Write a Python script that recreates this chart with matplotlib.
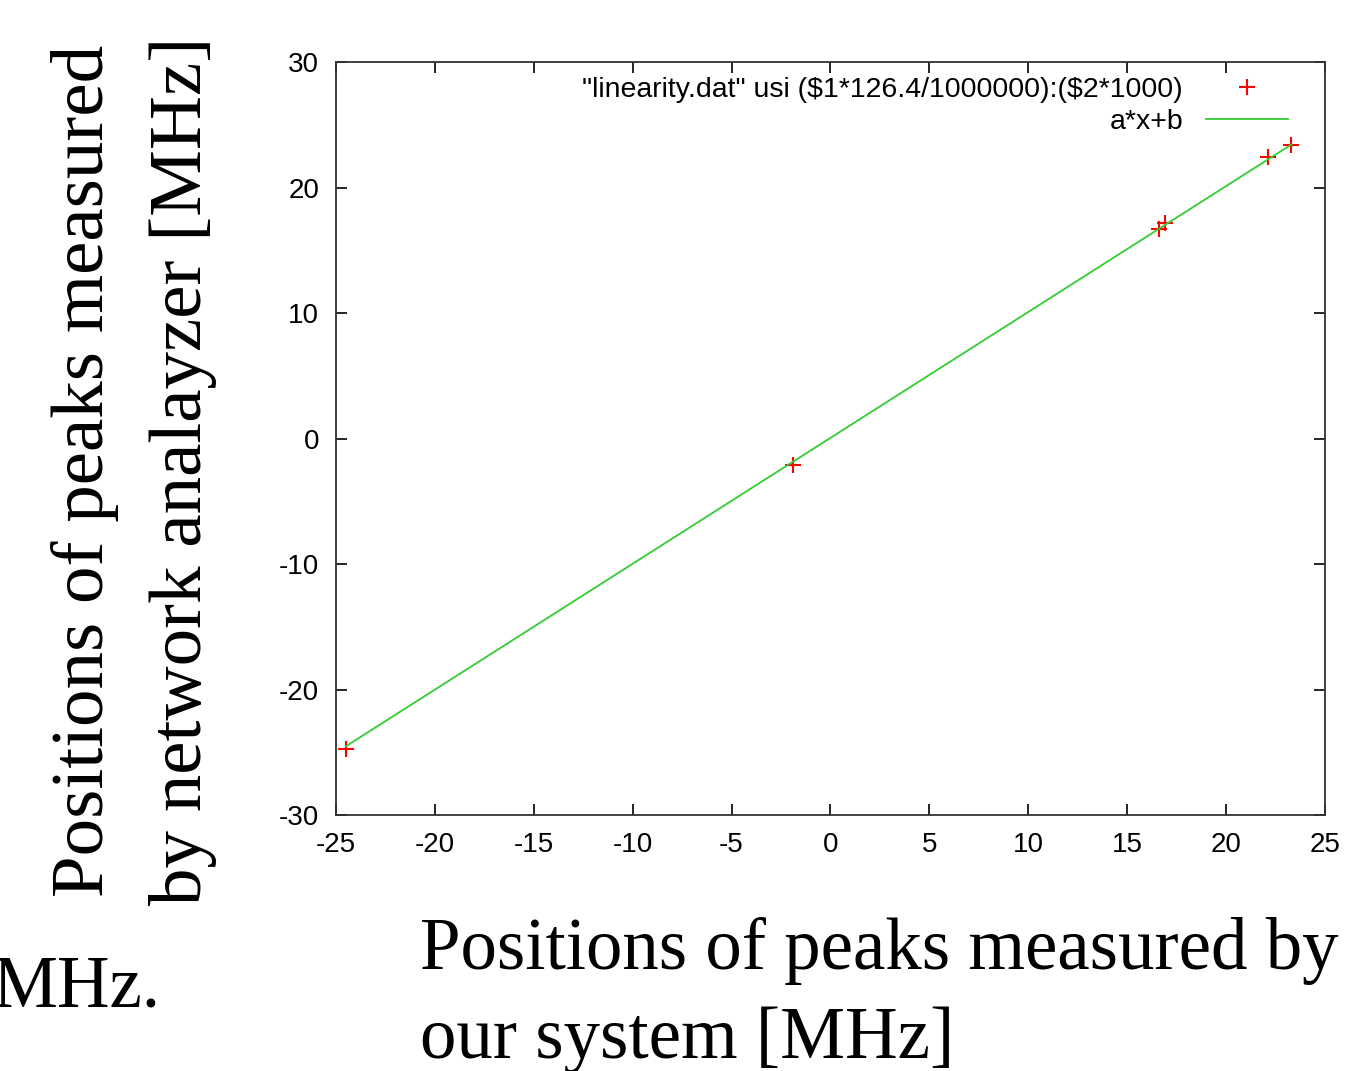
import matplotlib.pyplot as plt
import numpy as np

plt.rcParams["axes.unicode_minus"] = False
plt.rcParams["font.family"] = ["Liberation Sans", "DejaVu Sans"]

# peak positions [MHz]
x_sys = [-24.5, -1.9, 16.6, 16.9, 22.1, 23.3]
y_na = [-24.7, -2.1, 16.7, 17.2, 22.4, 23.4]

# fitted line a*x+b
a = 1.003
b = 0.05

xticks = [-25, -20, -15, -10, -5, 0, 5, 10, 15, 20, 25]
yticks = [-30, -20, -10, 0, 10, 20, 30]

fig = plt.figure(figsize=(13.69, 10.71), dpi=100)
ax = fig.add_axes([0.2454, 0.2390, 0.7224, 0.7031])

ax.plot(x_sys, y_na, "+", color="red", markersize=12, markeredgewidth=1.5,
        linestyle="none", label=r'"linearity.dat" usi (\$1*126.4/1000000):(\$2*1000)')
xf = np.array([min(x_sys), max(x_sys)])
ax.plot(xf, a * xf + b, color="#33cc33", linewidth=1.3, label="a*x+b")

ax.set_xlim(-25, 25)
ax.set_ylim(-30, 30)
ax.set_xticks(xticks)
ax.set_yticks(yticks)
ax.tick_params(direction="in", top=True, right=True, length=8, width=1.2,
               labelsize=20, pad=12)
for s in ax.spines.values():
    s.set_linewidth(1.3)
    s.set_color("#333333")

leg = ax.legend(loc="upper right", markerfirst=False, frameon=False,
                prop={"size": 20.5}, bbox_to_anchor=(0.989, 1.014),
                handlelength=2.9, handletextpad=0.8, labelspacing=0.2)

serif = ["Liberation Serif", "DejaVu Serif"]
fig.text(0.062, 0.56, "Positions of peaks measured", rotation=90, ha="center",
         va="center", fontsize=54, family=serif)
fig.text(0.134, 0.56, "by network analayzer [MHz]", rotation=90, ha="center",
         va="center", fontsize=54, family=serif)
fig.text(0.307, 0.095, "Positions of peaks measured by", ha="left", va="baseline",
         fontsize=52.5, family=serif)
fig.text(0.307, 0.012, "our system [MHz]", ha="left", va="baseline",
         fontsize=52.5, family=serif)
fig.text(-0.005, 0.060, "MHz.", ha="left", va="baseline", fontsize=52.5, family=serif)

fig.savefig("out.png", dpi=100)
